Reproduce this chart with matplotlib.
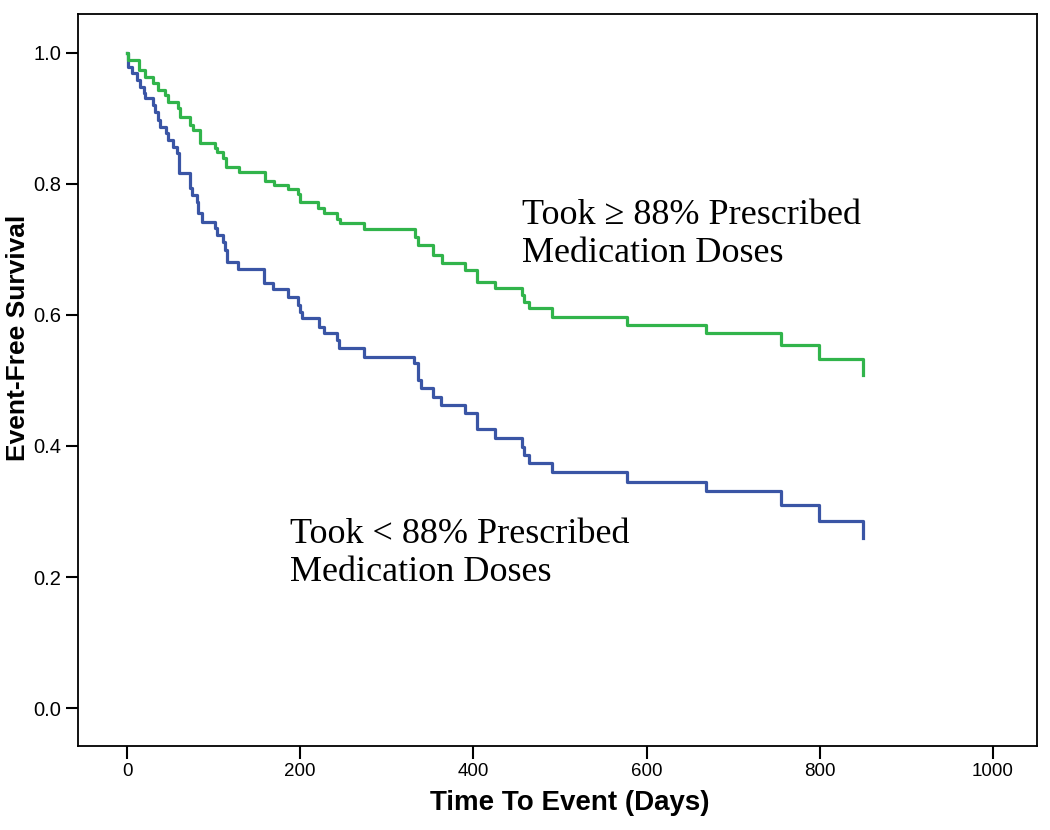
import matplotlib
matplotlib.use("Agg")
import matplotlib.pyplot as plt

# Kaplan-Meier step data (days, survival after drop)
green_days = [0, 1.2, 13.9, 20.8, 30.0, 35.8, 43.9, 47.3, 58.9, 61.2, 72.7, 76.2, 84.3,
              101.6, 103.9, 110.9, 114.3, 129.3, 159.4, 169.7, 185.9, 197.5, 199.8,
              220.6, 227.5, 242.5, 246.0, 273.7, 332.6, 336.0, 353.3, 363.7, 390.3,
              404.2, 425.0, 456.1, 458.4, 464.2, 490.8, 577.4, 668.6, 755.2, 799.1, 849.9]
green_surv = [1.0, 0.989, 0.974, 0.964, 0.954, 0.944, 0.936, 0.925, 0.916, 0.902, 0.890, 0.882, 0.862,
              0.855, 0.849, 0.840, 0.826, 0.818, 0.805, 0.798, 0.792, 0.785, 0.773,
              0.763, 0.756, 0.746, 0.740, 0.731, 0.719, 0.707, 0.692, 0.679, 0.669,
              0.650, 0.641, 0.631, 0.620, 0.611, 0.597, 0.585, 0.573, 0.554, 0.533, 0.508]

blue_days = [0, 1.2, 5.8, 11.5, 15.0, 19.6, 20.8, 30.0, 32.3, 35.8, 38.1, 45.0, 47.3, 53.1,
             57.7, 60.0, 72.7, 75.1, 80.8, 82.0, 86.6, 101.6, 103.9, 110.9, 113.2, 115.5,
             128.2, 158.2, 168.6, 185.9, 197.5, 199.8, 202.1, 221.7, 227.5, 242.5, 244.8,
             273.7, 331.4, 336.0, 339.5, 353.3, 362.6, 390.3, 404.2, 425.0, 456.1, 458.4,
             464.2, 490.8, 577.4, 668.6, 755.2, 799.1, 849.9]
blue_surv = [1.0, 0.979, 0.969, 0.959, 0.948, 0.939, 0.931, 0.921, 0.910, 0.898, 0.887, 0.878, 0.867, 0.856,
             0.847, 0.817, 0.794, 0.783, 0.773, 0.756, 0.742, 0.733, 0.722, 0.711, 0.699, 0.681,
             0.670, 0.649, 0.640, 0.628, 0.615, 0.605, 0.595, 0.582, 0.572, 0.562, 0.550,
             0.536, 0.527, 0.501, 0.489, 0.475, 0.463, 0.450, 0.426, 0.412, 0.398, 0.386,
             0.374, 0.360, 0.345, 0.331, 0.310, 0.285, 0.260]

x_ticks = [0, 200, 400, 600, 800, 1000]
y_ticks = [0.0, 0.2, 0.4, 0.6, 0.8, 1.0]
label_high = "Took \u2265 88% Prescribed\nMedication Doses"
label_low = "Took < 88% Prescribed\nMedication Doses"

fig = plt.figure(figsize=(10.5, 8.3), dpi=100)
ax = fig.add_axes([78/1050, 1 - 746/830, (1037-78)/1050, (746-14)/830])

ax.step(blue_days, blue_surv, where="post", color="#3a55a5", lw=2.3, zorder=2)
ax.step(green_days, green_surv, where="post", color="#31b44b", lw=2.3, zorder=3)

ax.set_xlim(-56.6, 1050.8)
ax.set_ylim(-0.058, 1.0595)
ax.set_xticks(x_ticks)
ax.set_xticklabels([str(t) for t in x_ticks])
ax.set_yticks(y_ticks)
ax.set_yticklabels([f"{t:.1f}" for t in y_ticks])
ax.tick_params(direction="out", length=9, width=1.5, pad=3,
               top=False, right=False)
ax.tick_params(axis="x", labelsize=13.5)
ax.tick_params(axis="y", labelsize=14.5)
for lab in ax.get_xticklabels() + ax.get_yticklabels():
    lab.set_family("Liberation Sans")
for s in ax.spines.values():
    s.set_linewidth(1.3)

fig.text(570/1050, 1 - 803/830, "Time To Event (Days)", fontsize=20,
         fontweight="bold", family="Liberation Sans", ha="center", va="center")
fig.text(18/1050, 1 - 338/830, "Event-Free Survival", fontsize=19,
         fontweight="bold", family="Liberation Sans", ha="center", va="center",
         rotation=90)

ax.text(456, 0.723, label_high, fontsize=26, family="Liberation Serif",
        va="center", ha="left", linespacing=1.2)
ax.text(188, 0.236, label_low, fontsize=26, family="Liberation Serif",
        va="center", ha="left", linespacing=1.2)

fig.savefig("out.png", dpi=100)
